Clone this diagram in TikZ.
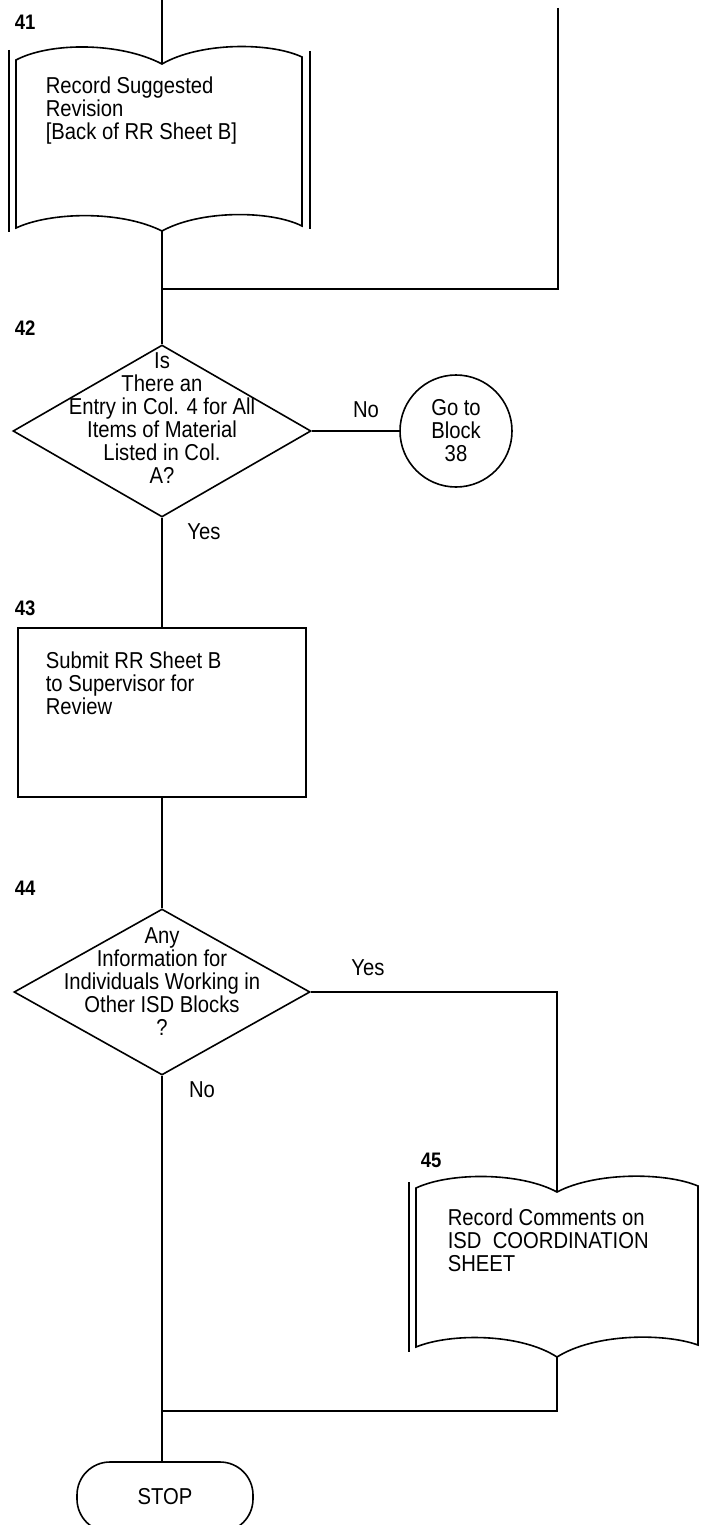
\documentclass[tikz,border=0pt]{standalone}
\usepackage{fontspec}
\setmainfont{Liberation Sans}[FakeStretch=0.88]
\usetikzlibrary{shapes.geometric}
\begin{document}
\begin{tikzpicture}[x=1pt,y=-1pt,line width=1.6pt,
  txt/.style={font=\fontsize{23}{23}\selectfont,inner sep=0pt},
  lbl/.style={font=\fontsize{21}{23}\selectfont\bfseries,inner sep=0pt},
  ctxt/.style={txt,align=center},
  ltxt/.style={txt,align=left,anchor=west},
  dec/.style={diamond,draw,inner sep=0pt},
  proc/.style={rectangle,draw,inner sep=0pt},
  conn/.style={circle,draw,inner sep=0pt,minimum size=112pt,font=\fontsize{23}{23}\selectfont,align=center},
  term/.style={rectangle,draw,rounded corners=33pt,minimum width=176pt,minimum height=70pt,font=\fontsize{23}{23}\selectfont}]
\useasboundingbox (0,0) rectangle (703,1525);
\fill[white] (0,0) rectangle (703,1525);

% ---------- block 41 (document) ----------
\coordinate (in41) at (162,0);
\coordinate (d41tl) at (16,60);
\coordinate (d41tn) at (162,64);
\coordinate (d41tr) at (302,57);
\coordinate (d41br) at (302,226);
\coordinate (d41bn) at (162,231);
\coordinate (d41bl) at (16,228);
\draw (d41tl) .. controls (50,42) and (120,42) .. (d41tn)
      .. controls (200,42) and (270,42) .. (d41tr) -- (d41br)
      .. controls (270,210) and (200,210) .. (d41bn)
      .. controls (120,210) and (50,212) .. (d41bl) -- cycle;
\draw (9,50) -- (9,232);
\draw (310,51) -- (310,229);
\node[lbl,anchor=west] (n41) at (14,22) {41};
\node[ltxt] (t41) at (45,111) {Record Suggested\\Revision\\{[}Back of RR Sheet B{]}};

% ---------- junction 1 ----------
\coordinate (rtop) at (558,8);
\coordinate (rc) at (558,289);
\coordinate (j1) at (162,289);

% ---------- block 42 (decision) ----------
\node[dec,minimum width=298pt,minimum height=172pt] (d42) at (162,431) {};
\node[ctxt] (t42) at (162,418) {Is\\There an\\Entry in Col. 4 for All\\Items of Material\\Listed in Col.\\A?};
\node[lbl,anchor=west] (n42) at (14,328) {42};
\node[conn] (c38) at (456,431) {Go to\\Block\\38};
\node[txt] (no42) at (366,410) {No};
\node[txt] (yes42) at (204,532) {Yes};

% ---------- block 43 (process) ----------
\node[proc,minimum width=288pt,minimum height=169pt] (b43) at (162,712.5) {};
\node[ltxt] (t43) at (45,683) {Submit RR Sheet B\\to Supervisor for\\Review};
\node[lbl,anchor=west] (n43) at (14,608) {43};

% ---------- block 44 (decision) ----------
\node[dec,minimum width=296pt,minimum height=166pt] (d44) at (162,992) {};
\node[ctxt] (t44) at (162,982) {Any\\Information for\\Individuals Working in\\Other ISD Blocks\\?};
\node[lbl,anchor=west] (n44) at (14,888) {44};
\node[txt] (yes44) at (368,968) {Yes};
\node[txt] (no44) at (202,1090) {No};
\coordinate (yc) at (557,992);

% ---------- block 45 (document) ----------
\coordinate (d45tl) at (416,1188);
\coordinate (d45tn) at (557,1192);
\coordinate (d45tr) at (698,1186);
\coordinate (d45br) at (698,1345);
\coordinate (d45bn) at (557,1357);
\coordinate (d45bl) at (416,1347);
\draw (d45tl) .. controls (450,1172) and (520,1172) .. (d45tn)
      .. controls (595,1172) and (665,1172) .. (d45tr) -- (d45br)
      .. controls (665,1333) and (595,1333) .. (d45bn)
      .. controls (520,1333) and (450,1333) .. (d45bl) -- cycle;
\draw (409,1182) -- (409,1352);
\node[lbl,anchor=west] (n45) at (420,1160) {45};
\node[ltxt] (t45) at (447,1240) {Record Comments on\\ISD\ \ COORDINATION\\SHEET};

% ---------- stop ----------
\node[term] (stop) at (165,1497) {STOP};
\coordinate (j2) at (557,1411);
\coordinate (j3) at (162,1411);

% ---------- connectors ----------
\draw (in41) -- (d41tn);
\draw (d41bn) -- (j1) -- (d42.north);
\draw (rtop) -- (rc) -- (j1);
\draw (d42.east) -- (c38.west);
\draw (d42.south) -- (b43.north);
\draw (b43.south) -- (d44.north);
\draw (d44.east) -- (yc) -- (d45tn);
\draw (d44.south) -- (d44.south |- stop.north);
\draw (d45bn) -- (j2) -- (j3);
\end{tikzpicture}
\end{document}
